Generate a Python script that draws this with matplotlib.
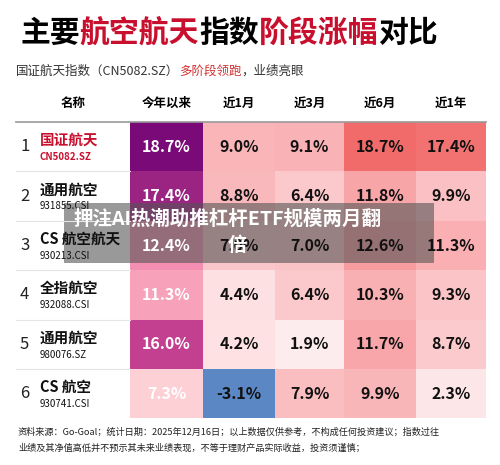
import matplotlib.pyplot as plt
from matplotlib.patches import Rectangle

plt.rcParams['font.family'] = ['Noto Sans CJK SC', 'DejaVu Sans']

names = ['国证航天', '通用航空', 'CS 航空航天', '全指航空', '通用航空', 'CS 航空']
codes = ['CN5082.SZ', '931855.CSI', '930213.CSI', '932088.CSI', '980076.SZ', '930741.CSI']
headers = ['今年以来', '近1月', '近3月', '近6月', '近1年']
ytd = [18.7, 17.4, 12.4, 11.3, 16.0, 7.3]
m1 = [9.0, 8.8, 7.0, 4.4, 4.2, -3.1]
m3 = [9.1, 6.4, 7.0, 6.4, 1.9, 7.9]
m6 = [18.7, 11.8, 12.6, 10.3, 11.7, 9.9]
y1 = [17.4, 9.9, 11.3, 9.3, 8.7, 2.3]

colors = [
    ['#7b0a79', '#9b2382', '#f48fb3', '#f7a1bb', '#c2408f', '#fdd0d6'],
    ['#f9b5b8', '#f9b8bb', '#fbc6c9', '#fde0e2', '#fde1e3', '#5b87c5'],
    ['#f9b3b6', '#fbc8cb', '#fac3c6', '#fbc8cb', '#fdeced', '#fabdc0'],
    ['#f26b6b', '#f8a5a8', '#f79da0', '#f9b0b3', '#f8a6a9', '#f9b6b9'],
    ['#f27272', '#fbc0c3', '#fab0b3', '#fbc4c7', '#fbcacd', '#fde6e8'],
]
cols = [ytd, m1, m3, m6, y1]

fig = plt.figure(figsize=(5, 4.65), dpi=100)
ax = fig.add_axes([0, 0, 1, 1])
ax.set_xlim(0, 500)
ax.set_ylim(465, 0)
ax.axis('off')
fig.canvas.draw()
rend = fig.canvas.get_renderer()


def seq_text(x, y, parts, **kw):
    # place coloured pieces one after another
    for t, c in parts:
        txt = ax.text(x, y, t, color=c, va='center', **kw)
        bb = txt.get_window_extent(rend)
        x += bb.width * 500 / fig.bbox.width
    return x


red = '#c8102e'
seq_text(20, 33, [('主要', 'black'), ('航空航天', red), ('指数', 'black'),
                  ('阶段涨幅', red), ('对比', 'black')], fontsize=21.5, fontweight='heavy')
seq_text(16, 71, [('国证航天指数（CN5082.SZ）', '#333333'), ('多阶段领跑', '#d03030'),
                  ('，业绩亮眼', '#333333')], fontsize=9)

edges = [16, 130, 203, 275, 344, 416, 486]
for i, h in enumerate(['名称'] + headers):
    ax.text((edges[i] + edges[i + 1]) / 2, 103, h, fontsize=9, fontweight='bold', ha='center', va='center')
ax.plot([16, 486], [122, 122], color='#999999', lw=1.2)

top, rh = 122, 49.4
for r in range(6):
    y0 = top + r * rh
    ax.text(20, y0 + rh / 2, str(r + 1), fontsize=12, va='center', color='#222222')
    nc = red if r == 0 else '#111111'
    ax.text(40, y0 + 18, names[r], fontsize=10.5, fontweight='bold', va='center', color=nc)
    ax.text(40, y0 + 35, codes[r], fontsize=7, va='center', color=nc,
            fontweight='bold' if r == 0 else 'normal')
    if r < 5:
        ax.plot([16, 130], [y0 + rh, y0 + rh], color='#e5e5e5', lw=0.8)
    for c in range(5):
        x0 = edges[c + 1]
        ax.add_patch(Rectangle((x0, y0), edges[c + 2] - x0, rh, color=colors[c][r], lw=0))
        tc = 'white' if c == 0 else '#111111'
        ax.text((x0 + edges[c + 2]) / 2, y0 + rh / 2, f'{cols[c][r]:.1f}%', fontsize=11.5,
                fontweight='semibold', ha='center', va='center', color=tc)

ax.text(18, 432, '资料来源：Go-Goal；统计日期：2025年12月16日；以上数据仅供参考，不构成任何投资建议；指数过往',
        fontsize=6.6, va='center', color='#222222')
ax.text(18, 448, '业绩及其净值高低并不预示其未来业绩表现，不等于理财产品实际收益，投资须谨慎；',
        fontsize=6.6, va='center', color='#222222')

# overlay banner
ax.add_patch(Rectangle((64, 203), 370, 60, color='#555555', alpha=0.6, lw=0))
ax.text(74, 219, '押注AI热潮助推杠杆ETF规模两月翻', fontsize=14, fontweight='heavy', color='white', va='center')
ax.text(228, 245, '倍', fontsize=14, fontweight='heavy', color='white', va='center')

fig.savefig('out.png', dpi=100)
